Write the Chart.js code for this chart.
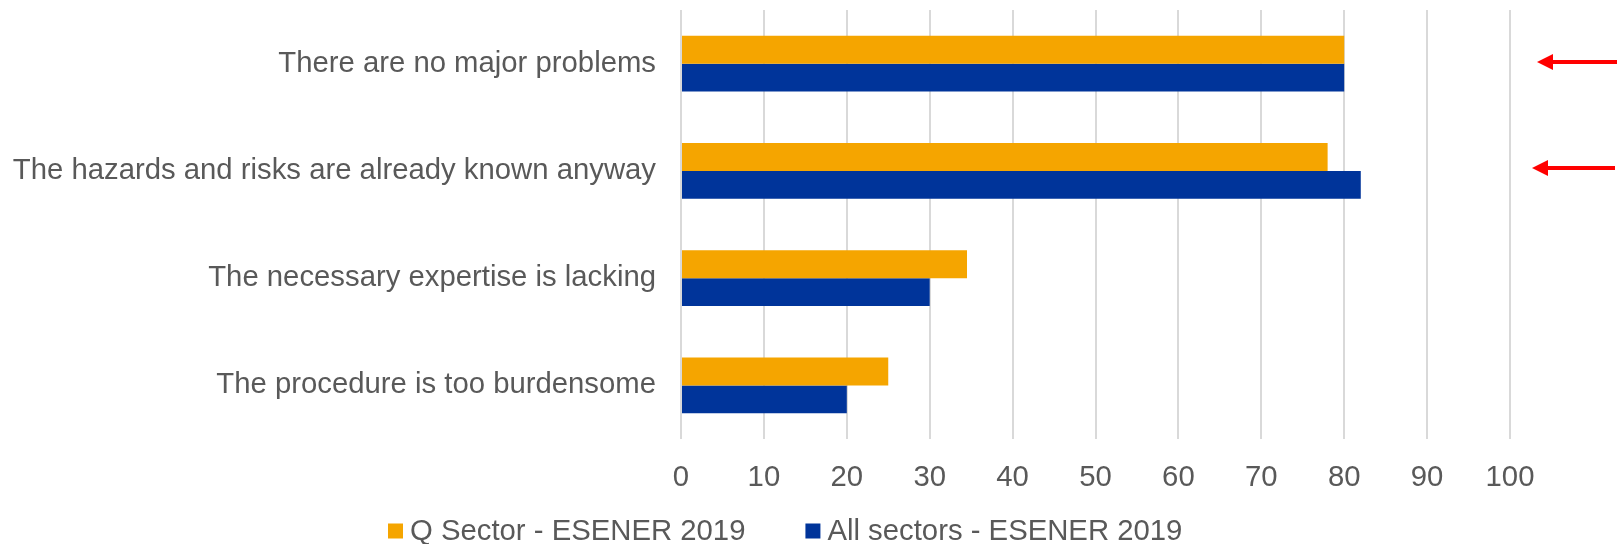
<!DOCTYPE html>
<html>
<head>
<meta charset="utf-8">
<script src="https://cdn.jsdelivr.net/npm/chart.js@4.4.1/dist/chart.umd.min.js"></script>
<style>
  html, body { margin: 0; padding: 0; background: #ffffff; }
  #wrap { width: 1617px; height: 544px; position: relative; }
</style>
</head>
<body>
<div id="wrap"><canvas id="c"></canvas></div>
<script>
// ---- data ----
const categories = [
  "There are no major problems",
  "The hazards and risks are already known anyway",
  "The necessary expertise is lacking",
  "The procedure is too burdensome"
];
const seriesNames = ["Q Sector - ESENER 2019", "All sectors - ESENER 2019"];
const qSector = [80, 78, 34.5, 25];
const allSectors = [80, 82, 30, 20];
const xTicks = [0, 10, 20, 30, 40, 50, 60, 70, 80, 90, 100];
const highlighted = [0, 1]; // categories marked by red arrows

// ---- styles ----
const FONT = '"Liberation Sans", Arial, sans-serif';
const FSIZE = 29.3;
const TEXT = '#595959';
const ORANGE = '#F5A500';
const BLUE = '#00349A';

const legendPlugin = {
  id: 'customLegend',
  afterDraw(chart) {
    const ctx = chart.ctx;
    ctx.save();
    ctx.font = FSIZE + 'px ' + FONT;
    ctx.textBaseline = 'middle';
    ctx.textAlign = 'left';
    let x = 388;
    const y = 531;
    chart.data.datasets.forEach(ds => {
      ctx.fillStyle = ds.backgroundColor;
      ctx.fillRect(x, y - 7.5, 15, 15);
      x += 22;
      ctx.fillStyle = TEXT;
      ctx.fillText(ds.label, x, y + 1);
      x += ctx.measureText(ds.label).width + 60;
    });
    ctx.restore();
  }
};

const arrowPlugin = {
  id: 'arrows',
  afterDraw(chart) {
    const ctx = chart.ctx;
    const ys = chart.scales.y;
    const area = chart.chartArea;
    ctx.save();
    ctx.fillStyle = '#FF0000';
    ctx.strokeStyle = '#FF0000';
    highlighted.forEach((idx, i) => {
      const y = Math.round(ys.getPixelForValue(idx)) - 2 - i;
      const tip = area.right + 27 - i * 5;
      ctx.lineWidth = 4;
      ctx.beginPath();
      ctx.moveTo(tip + 12, y);
      ctx.lineTo(chart.width - (i ? 2 : 0), y);
      ctx.stroke();
      ctx.beginPath();
      ctx.moveTo(tip, y);
      ctx.lineTo(tip + 16, y - 8);
      ctx.lineTo(tip + 16, y + 8);
      ctx.closePath();
      ctx.fill();
    });
    ctx.restore();
  }
};

new Chart(document.getElementById('c'), {
  type: 'bar',
  data: {
    labels: categories,
    datasets: [
      { label: seriesNames[0], data: qSector, backgroundColor: ORANGE, borderWidth: 0 },
      { label: seriesNames[1], data: allSectors, backgroundColor: BLUE, borderWidth: 0 }
    ]
  },
  options: {
    indexAxis: 'y',
    responsive: true,
    maintainAspectRatio: false,
    animation: false,
    layout: { padding: { left: 0, right: 107, top: 10, bottom: 0 } },
    datasets: { bar: { categoryPercentage: 0.522, barPercentage: 1.0 } },
    plugins: {
      legend: { display: false },
      tooltip: { enabled: false }
    },
    scales: {
      x: {
        min: 0, max: 100,
        afterBuildTicks(scale) { scale.ticks = xTicks.map(v => ({ value: v })); },
        afterFit(scale) { scale.height = 105; scale.paddingLeft = 0; scale.paddingRight = 0; },
        grid: { color: '#D9D9D9', lineWidth: 2, drawTicks: false },
        border: { display: false },
        ticks: { color: TEXT, font: { family: FONT, size: FSIZE }, padding: 21, maxRotation: 0 }
      },
      y: {
        afterFit(scale) { scale.width = 681; scale.paddingTop = 0; scale.paddingBottom = 0; },
        grid: { display: false, drawTicks: false },
        border: { display: false },
        ticks: { color: TEXT, font: { family: FONT, size: FSIZE }, padding: 25 }
      }
    }
  },
  plugins: [legendPlugin, arrowPlugin]
});
</script>
</body>
</html>
